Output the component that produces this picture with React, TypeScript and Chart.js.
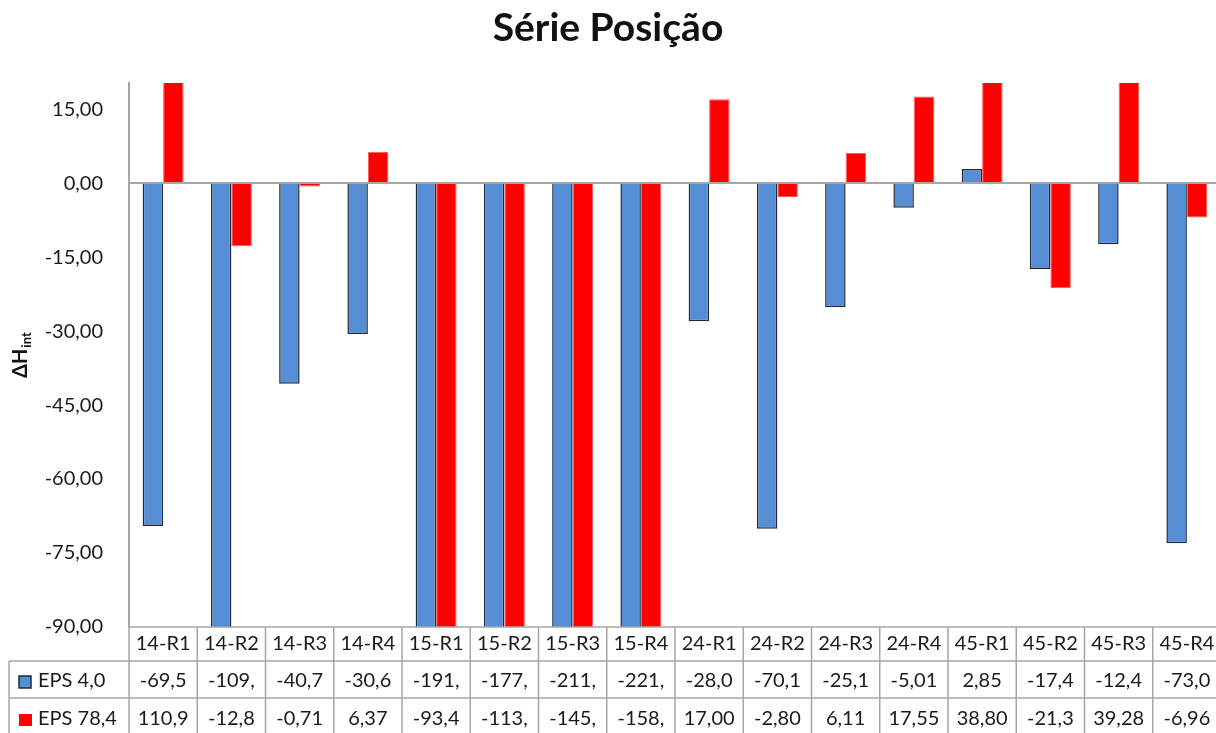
import React, { useEffect, useRef } from 'react';
import { Chart, registerables } from 'chart.js';

Chart.register(...registerables);

const chartTitle = 'Série Posição';
const categories = ['14-R1', '14-R2', '14-R3', '14-R4', '15-R1', '15-R2', '15-R3', '15-R4', '24-R1', '24-R2', '24-R3', '24-R4', '45-R1', '45-R2', '45-R3', '45-R4'];
const seriesNames = ['EPS 4,0', 'EPS 78,4'];
const eps40 = [-69.5, -109.0, -40.7, -30.6, -191.0, -177.0, -211.0, -221.0, -28.0, -70.1, -25.1, -5.01, 2.85, -17.4, -12.4, -73.0];
const eps784 = [110.9, -12.8, -0.71, 6.37, -93.4, -113.0, -145.0, -158.0, 17.0, -2.8, 6.11, 17.55, 38.8, -21.3, 39.28, -6.96];
const yTicks = [15, 0, -15, -30, -45, -60, -75, -90];
const yMin = -90;
const yMax = 20.3;

const FONT = 'Lato, "Open Sans", "DejaVu Sans", sans-serif';
const TEXT = '#1a1a1a';
const LINE = '#a6a6a6';
const BLUE = '#558ED5';
const BLUE_BORDER = '#1f2a36';
const RED = '#FF0000';
const RED_BORDER = '#ff5a5a';

const fmt = (v: number) => v.toFixed(2).replace('.', ',');
const cellText = (v: number) => fmt(v).slice(0, 5);

const decorPlugin = {
  id: 'excelDecor',
  afterDraw(chart: any) {
    const { ctx, chartArea } = chart;
    const n = categories.length;
    const left = chartArea.left;
    const right = chartArea.right;
    const colW = (right - left) / n;
    const top = chartArea.bottom;
    const row1 = top + 34;
    const row2 = row1 + 37;
    const bottom = chart.height;
    const xs = chart.scales.x;

    ctx.save();
    // Title
    ctx.fillStyle = '#111';
    ctx.font = `bold 39px ${FONT}`;
    ctx.textAlign = 'center';
    ctx.textBaseline = 'alphabetic';
    ctx.fillText(chartTitle, 608, 41);

    // Y axis title with subscript
    ctx.save();
    ctx.translate(27, 378);
    ctx.rotate(-Math.PI / 2);
    ctx.textAlign = 'left';
    ctx.font = `bold 20px ${FONT}`;
    ctx.fillText('ΔH', 0, 0);
    const w = ctx.measureText('ΔH').width;
    ctx.font = `bold 13px ${FONT}`;
    ctx.fillText('int', w + 1, 4);
    ctx.restore();

    // Table lines
    ctx.strokeStyle = LINE;
    ctx.lineWidth = 1.5;
    const line = (x1: number, y1: number, x2: number, y2: number) => {
      ctx.beginPath();
      ctx.moveTo(x1, y1);
      ctx.lineTo(x2, y2);
      ctx.stroke();
    };
    line(left, top, right, top);
    line(9, row1, right, row1);
    line(9, row2, right, row2);
    line(9, row1, 9, bottom);
    for (let i = 0; i <= n; i++) {
      const xx = left + i * colW;
      line(xx, top, xx, bottom);
    }

    // Table text
    ctx.fillStyle = TEXT;
    ctx.font = `20px ${FONT}`;
    ctx.textAlign = 'center';
    ctx.textBaseline = 'middle';
    categories.forEach((c, i) => {
      const cx = xs.getPixelForValue(i);
      ctx.fillText(c, cx, top + 17);
      ctx.fillText(cellText(eps40[i]), cx, row1 + 20);
      ctx.fillText(cellText(eps784[i]), cx, row2 + 21);
    });

    // Legend keys
    ctx.fillStyle = BLUE;
    ctx.fillRect(19, 676, 12, 12);
    ctx.strokeStyle = BLUE_BORDER;
    ctx.lineWidth = 1.5;
    ctx.strokeRect(19, 676, 12, 12);
    ctx.fillStyle = RED;
    ctx.fillRect(19, 714, 13, 12);
    ctx.fillStyle = TEXT;
    ctx.textAlign = 'left';
    ctx.fillText(seriesNames[0], 38, row1 + 20);
    ctx.fillText(seriesNames[1], 38, row2 + 21);
    ctx.restore();
  },
};

export default function App() {
  const canvasRef = useRef<HTMLCanvasElement | null>(null);

  useEffect(() => {
    document.body.style.margin = '0';
    document.body.style.overflow = 'hidden';
    const canvas = canvasRef.current;
    if (!canvas) return;
    const chart = new Chart(canvas, {
      type: 'bar',
      data: {
        labels: categories,
        datasets: [
          {
            label: seriesNames[0],
            data: eps40,
            backgroundColor: BLUE,
            borderColor: BLUE_BORDER,
            borderWidth: 1.5,
            categoryPercentage: 0.6,
            barPercentage: 1.0,
            clip: 0,
          } as any,
          {
            label: seriesNames[1],
            data: eps784,
            backgroundColor: RED,
            borderColor: RED_BORDER,
            borderWidth: 1,
            categoryPercentage: 0.6,
            barPercentage: 1.0,
            clip: 0,
          } as any,
        ],
      },
      options: {
        responsive: false,
        maintainAspectRatio: false,
        animation: false,
        devicePixelRatio: 1,
        layout: { padding: { top: 83, bottom: 106, left: 0, right: 0 } },
        plugins: {
          legend: { display: false },
          title: { display: false },
          tooltip: { enabled: false },
        },
        scales: {
          x: {
            type: 'category',
            display: false,
            offset: true,
          },
          y: {
            type: 'linear',
            min: yMin,
            max: yMax,
            afterBuildTicks: (scale: any) => {
              scale.ticks = yTicks.map((v) => ({ value: v }));
            },
            afterFit: (scale: any) => {
              scale.width = 129;
            },
            ticks: {
              padding: 26,
              color: TEXT,
              font: { family: FONT, size: 20 },
              callback: (v: any) => fmt(Number(v)),
            },
            grid: {
              drawTicks: false,
              tickLength: 0,
              lineWidth: 2,
              color: (c: any) => (c.tick && c.tick.value === 0 ? LINE : 'rgba(0,0,0,0)'),
            },
            border: { display: true, color: LINE, width: 2 },
          },
        },
      },
      plugins: [decorPlugin],
    });
    return () => chart.destroy();
  }, []);

  return (
    <div style={{ position: 'fixed', left: 0, top: 0, width: 1216, height: 733, overflow: 'hidden', background: '#fff' }}>
      <canvas ref={canvasRef} width={1221} height={733} style={{ display: 'block' }} />
    </div>
  );
}
